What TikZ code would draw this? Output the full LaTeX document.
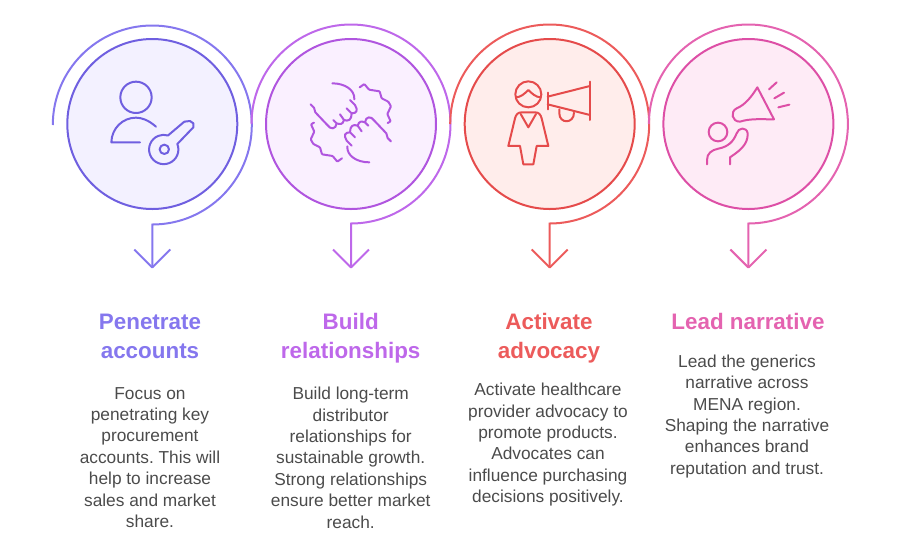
\documentclass[tikz,border=0pt]{standalone}
\usepackage{fontspec}
\usetikzlibrary{calc}
\setmainfont{Liberation Sans}
\frenchspacing
\definecolor{violetLine}{HTML}{8577EE}
\definecolor{violetRing}{HTML}{6F5FE0}
\definecolor{violetFill}{HTML}{F3F1FF}
\definecolor{orchidLine}{HTML}{BE68EA}
\definecolor{orchidRing}{HTML}{B055DF}
\definecolor{orchidFill}{HTML}{FAF0FF}
\definecolor{coralLine}{HTML}{EC5B5B}
\definecolor{coralRing}{HTML}{E54B4B}
\definecolor{coralFill}{HTML}{FFEDEB}
\definecolor{pinkLine}{HTML}{E463B0}
\definecolor{pinkRing}{HTML}{DD4FA6}
\definecolor{pinkFill}{HTML}{FEEBF6}
\definecolor{bodyGray}{HTML}{4B4B4B}
\tikzset{
  spiral/.style={line width=2pt},
  ring/.style={line width=2pt},
  glyph/.style={line width=2pt, line join=round, line cap=round},
  headline/.style={anchor=north, align=center, inner sep=0pt, font=\fontsize{22.4}{29}\selectfont\bfseries},
  blurb/.style={anchor=north, align=center, inner sep=0pt, text=bodyGray, font=\fontsize{17.3}{21.4}\selectfont},
}
\newcommand{\halffist}{
    (97,40) .. controls (135,40) and (165,60) .. (163,88)
    (150,90) -- (165,105) .. controls (175,122) and (170,130) .. (155,130)
    (140,115) -- (155,130) .. controls (155,150) and (145,155) .. (132,150)
    (120,133) -- (132,150) .. controls (128,165) and (120,163) .. (110,160)
    (100,150) -- (110,160) .. controls (108,178) and (92,180) .. (82,165)
    -- (46,127) -- (42,113) -- (32,103)
}
\newcommand{\halfwave}{
    (42,158) -- (33,163) -- (43,185) -- (32,208) -- (40,222) -- (60,232) -- (66,253) -- (98,258) -- (112,275) -- (126,265)
}
\begin{document}
\begin{tikzpicture}[x=1pt, y=-1pt]
\useasboundingbox (0,0) rectangle (900,550);
% Discs
    \draw[ring, violetRing, fill=violetFill] (152.3,124) circle(85);
    \draw[ring, orchidRing, fill=orchidFill] (351,124) circle(85);
    \draw[ring, coralRing, fill=coralFill] (549.7,124) circle(85);
    \draw[ring, pinkRing, fill=pinkFill] (748.4,124) circle(85);
% Arrow tips
    \coordinate (tipA) at (152.3,267.5);
    \coordinate (tipB) at (351,267.5);
    \coordinate (tipC) at (549.7,267.5);
    \coordinate (tipD) at (748.4,267.5);
% Spirals ending in arrows
    \draw[spiral, violetLine] (52.8,125) arc[start angle=180, end angle=450, radius=99.5] -- (tipA);
    \draw[spiral, violetLine, line join=round] ($(tipA)+(-18,-18)$) -- (tipA) -- ($(tipA)+(18,-18)$);
    \draw[spiral, orchidLine] (251.5,124) arc[start angle=180, end angle=450, radius=99.5] -- (tipB);
    \draw[spiral, orchidLine, line join=round] ($(tipB)+(-18,-18)$) -- (tipB) -- ($(tipB)+(18,-18)$);
    \draw[spiral, coralLine] (450.2,124) arc[start angle=180, end angle=450, radius=99.5] -- (tipC);
    \draw[spiral, coralLine, line join=round] ($(tipC)+(-18,-18)$) -- (tipC) -- ($(tipC)+(18,-18)$);
    \draw[spiral, pinkLine] (648.9,124) arc[start angle=180, end angle=450, radius=99.5] -- (tipD);
    \draw[spiral, pinkLine, line join=round] ($(tipD)+(-18,-18)$) -- (tipD) -- ($(tipD)+(18,-18)$);
% Person with key
\begin{scope}[shift={(100,70)}, x=0.3333pt, y=-0.3333pt, glyph, violetRing]
    \draw (108,82) circle(47);
    \draw (168,170) .. controls (145,150) and (125,143) .. (108,143) .. controls (68,143) and (35,175) .. (34,217) -- (120,217);
    \draw (193,238) circle(14);
    \draw (232,222) arc[start angle=-22, end angle=287, radius=44] -- (253,155) -- (270,153) -- (280,160) -- (280,172) -- cycle;
\end{scope}
% Two fists
\begin{scope}[shift={(300,70)}, x=0.3333pt, y=-0.3333pt, glyph, orchidRing]
    \draw \halffist;
    \draw[rounded corners=0.8pt] \halfwave;
    \draw[rotate around={180:(152.5,158.5)}] \halffist;
    \draw[rotate around={180:(152.5,158.5)}, rounded corners=0.8pt] \halfwave;
\end{scope}
% Woman with megaphone
\begin{scope}[shift={(500,70)}, x=0.3333pt, y=-0.3333pt, glyph, coralRing]
    \draw (85,73) circle(39);
    \draw (48,82) .. controls (62,82) and (75,70) .. (85,60) .. controls (95,70) and (108,82) .. (122,82);
    \draw (65,127) -- (105,127) .. controls (118,127) and (122,135) .. (125,145) -- (145,228) -- (110,228) -- (100,283) -- (70,283) -- (60,228) -- (25,228) -- (45,145) .. controls (48,135) and (52,127) .. (65,127) -- cycle;
    \draw (62,132) -- (85,172) -- (108,132);
    \draw (143,68) -- (143,118);
    \draw (143,80) -- (270,48);
    \draw (143,103) -- (270,135);
    \draw (270,35) -- (270,150);
    \draw (178,118) -- (178,130) .. controls (178,162) and (222,162) .. (222,128);
\end{scope}
% Person with loudhailer
\begin{scope}[shift={(695,70)}, x=0.3333pt, y=-0.3333pt, glyph, pinkRing]
    \draw (187,52) -- (237,148) .. controls (200,148) and (165,145) .. (135,155) .. controls (110,155) and (105,125) .. (125,115) .. controls (150,105) and (170,80) .. (187,52) -- cycle;
    \draw (222,58) -- (245,37);
    \draw (238,85) -- (267,68);
    \draw (250,112) -- (283,104);
    \draw (69,186) circle(28);
    \draw (36,283) -- (36,270) .. controls (36,250) and (50,240) .. (70,236) .. controls (100,230) and (115,215) .. (125,190) .. controls (130,172) and (155,170) .. (158,190) .. controls (160,225) and (130,245) .. (105,262) -- (105,283);
\end{scope}
% Headlines
    \node[headline, text=violetLine] (headA) at (150,313.5) {Penetrate\\accounts};
    \node[headline, text=orchidLine] (headB) at (350.7,313.5) {Build\\relationships};
    \node[headline, text=coralLine] (headC) at (549,313.5) {Activate\\advocacy};
    \node[headline, text=pinkLine] (headD) at (748,313.5) {Lead narrative};
% Blurbs
    \node[blurb] (textA) at (150,387) {Focus on\\penetrating key\\procurement\\accounts. This will\\help to increase\\sales and market\\share.};
    \node[blurb] (textB) at (350.7,387) {Build long-term\\distributor\\relationships for\\sustainable growth.\\Strong relationships\\ensure better market\\reach.};
    \node[blurb] (textC) at (548,383) {Activate healthcare\\provider advocacy to\\promote products.\\Advocates can\\influence purchasing\\decisions positively.};
    \node[blurb] (textD) at (747,354.5) {Lead the generics\\narrative across\\MENA region.\\Shaping the narrative\\enhances brand\\reputation and trust.};
\end{tikzpicture}
\end{document}
